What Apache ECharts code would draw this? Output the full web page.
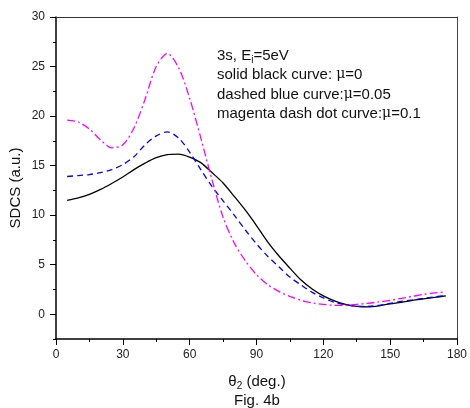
<!DOCTYPE html>
<html><head><meta charset="utf-8">
<script src="https://cdn.jsdelivr.net/npm/echarts@6/dist/echarts.min.js"></script>
<style>html,body{margin:0;padding:0;background:#fff}#c{width:470px;height:408px}</style>
</head><body><div id="c"></div>
<script>
const theta = [5,10,15,20,25,30,35,40,45,50,55,60,65,70,75,80,85,90,95,100,105,110,115,120,125,130,135,140,145,150,155,160,165,170,175];
const solidBlack = [11.5,11.75,12.1,12.6,13.2,13.85,14.6,15.25,15.8,16.1,16.15,15.85,15.3,14.3,13.25,11.9,10.5,8.95,7.3,5.9,4.65,3.45,2.55,1.85,1.35,1.0,0.8,0.75,0.85,1.05,1.2,1.4,1.55,1.7,1.85];
const dashedBlue = [13.9,14.0,14.1,14.3,14.6,15.1,15.9,17.1,18.0,18.4,17.8,16.35,14.6,12.9,11.45,10.0,8.5,7.1,5.85,4.8,3.75,2.95,2.2,1.65,1.2,0.95,0.8,0.8,0.9,1.1,1.3,1.45,1.6,1.75,1.9];
const magentaDashDot = [19.6,19.4,18.7,17.6,16.8,17.1,18.8,21.7,25.0,26.3,24.9,21.8,17.8,13.6,9.8,7.2,5.4,4.0,3.0,2.3,1.8,1.4,1.15,1.0,0.9,0.9,1.0,1.1,1.25,1.4,1.6,1.8,2.0,2.15,2.25];
const yTicks = [0,5,10,15,20,25,30];
const xTicks = [0,30,60,90,120,150,180];

const pair = a => theta.map((t,i)=>[t,a[i]]);
const F = 'Liberation Sans, Arial, sans-serif';
const chart = echarts.init(document.getElementById('c'), null, {renderer:'canvas'});
const lineW = 1.5;
const mu = {m:{fontSize:14,fontFamily:'DejaVu Serif',fill:'#111'}};
chart.setOption({
  animation:false,
  backgroundColor:'#fff',
  grid:{left:56,top:17,right:12,bottom:69},
  xAxis:[
    {type:'value',min:0,max:180,interval:15,position:'bottom',
     axisLine:{onZero:false,lineStyle:{color:'#000',width:lineW}},
     axisTick:{show:true,length:3,lineStyle:{color:'#000',width:1}},
     axisLabel:{margin:10,fontFamily:F,fontSize:12,color:'#222',formatter:v=>(v%30===0?String(v):'')},
     splitLine:{show:false}},
    {type:'value',min:0,max:180,position:'bottom',
     axisLine:{show:false,onZero:false},
     axisTick:{show:true,length:6,customValues:xTicks,lineStyle:{color:'#000',width:1}},
     axisLabel:{show:false},splitLine:{show:false}},
    {type:'value',min:0,max:180,position:'top',
     axisLine:{show:true,onZero:false,lineStyle:{color:'#333',width:1}},
     axisTick:{show:false},axisLabel:{show:false},splitLine:{show:false}}
  ],
  yAxis:[
    {type:'value',min:-2.5,max:30,interval:2.5,position:'left',
     axisLine:{show:true,onZero:false,lineStyle:{color:'#000',width:lineW}},
     axisTick:{show:true,length:3,lineStyle:{color:'#000',width:1}},
     axisLabel:{margin:11,fontFamily:F,fontSize:12,color:'#222',formatter:v=>(Math.abs(v%5)<1e-9?String(v):'')},
     splitLine:{show:false}},
    {type:'value',min:-2.5,max:30,position:'left',
     axisLine:{show:false,onZero:false},
     axisTick:{show:true,length:6,customValues:yTicks,lineStyle:{color:'#000',width:1}},
     axisLabel:{show:false},splitLine:{show:false}},
    {type:'value',min:-2.5,max:30,position:'right',
     axisLine:{show:true,onZero:false,lineStyle:{color:'#444',width:1}},
     axisTick:{show:false},axisLabel:{show:false},splitLine:{show:false}}
  ],
  series:[
    {type:'line',name:'solid black',data:pair(solidBlack),showSymbol:false,smooth:0.3,
     lineStyle:{color:'#000',width:1.3,type:'solid'}},
    {type:'line',name:'dashed blue',data:pair(dashedBlue),showSymbol:false,smooth:0.3,
     lineStyle:{color:'#0000ff',width:1.3,type:[6,4]}},
    {type:'line',name:'magenta dash dot',data:pair(magentaDashDot),showSymbol:false,smooth:0.3,
     lineStyle:{color:'#ff00ff',width:1.3,type:[8,3,2,3]}}
  ],
  graphic:[
    {type:'text',left:217,top:48,style:{text:'3s, E{sub|i}=5eV',font:'15px '+F,fill:'#111',
      rich:{sub:{fontSize:10,fontFamily:F,padding:[9,0,0,0],fill:'#111'}}}},
    {type:'text',left:217,top:67,style:{text:'solid black curve: {m|μ}=0',font:'15px '+F,fill:'#111',rich:mu}},
    {type:'text',left:217,top:87,style:{text:'dashed blue curve:{m|μ}=0.05',font:'15px '+F,fill:'#111',rich:mu}},
    {type:'text',left:217,top:106,style:{text:'magenta dash dot curve:{m|μ}=0.1',font:'15px '+F,fill:'#111',rich:mu}},
    {type:'text',x:16,y:188,rotation:Math.PI/2,style:{text:'SDCS (a.u.)',font:'15px '+F,fill:'#111',align:'center',verticalAlign:'middle'}},
    {type:'text',x:257,y:382,style:{text:'θ{sub|2} (deg.)',font:'15px '+F,fill:'#111',align:'center',verticalAlign:'middle',
      rich:{sub:{fontSize:10,fontFamily:F,padding:[9,0,0,0],fill:'#111'}}}},
    {type:'text',x:257,y:401,style:{text:'Fig. 4b',font:'15px '+F,fill:'#111',align:'center',verticalAlign:'middle'}}
  ]
});
</script></body></html>
